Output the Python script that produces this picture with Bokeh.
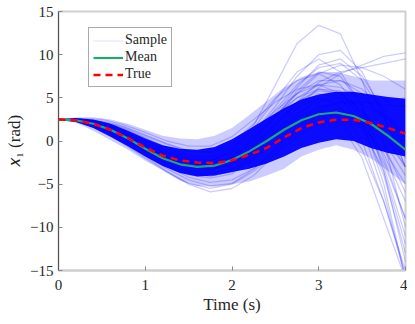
from bokeh.plotting import figure
from bokeh.models import Legend, LegendItem, FixedTicker
from bokeh.embed import file_html
from bokeh.resources import INLINE

# time grids
t_s = [0.0, 0.25, 0.5, 0.75, 1.0, 1.25, 1.5, 1.75, 2.0, 2.25, 2.5, 2.75, 3.0, 3.25, 3.5, 3.75, 4.0]
t_f = [0.0, 0.2, 0.4, 0.6, 0.8, 1.0, 1.2, 1.4, 1.6, 1.8, 2.0, 2.2, 2.4, 2.6, 2.8, 3.0, 3.2, 3.4, 3.6, 3.8, 4.0]

mean_x1 = [2.5, 2.4, 2.0, 1.3, 0.3, -0.9, -2.0, -2.7, -3.0, -2.85, -2.2, -1.2, 0.0, 1.3, 2.4, 3.1, 3.3, 2.9, 2.0, 0.6, -1.0]
true_x1 = [2.5, 2.4, 2.0, 1.3, 0.35, -0.75, -1.7, -2.25, -2.5, -2.55, -2.25, -1.6, -0.8, 0.4, 1.5, 2.15, 2.45, 2.45, 2.1, 1.5, 0.85]

# dense region of the sample cloud
core_lo = [2.5, 2.2, 1.5, 0.5, -0.6, -1.8, -2.9, -3.7, -4.1, -4.0, -3.6, -3.2, -2.6, -1.8, -0.8, -0.2, 0.2, 0.0, -0.8, -1.4, -1.8]
core_hi = [2.5, 2.65, 2.5, 2.0, 1.2, 0.3, -0.5, -0.9, -1.0, -0.7, 0.2, 1.4, 2.6, 3.8, 4.8, 5.4, 5.7, 5.7, 5.4, 5.1, 4.9]
# faint fringe of the sample cloud
fringe_lo = [2.5, 2.1, 1.2, 0.1, -1.0, -2.3, -3.4, -4.6, -5.2, -5.3, -5.0, -4.7, -4.0, -3.2, -1.8, -1.0, -0.5, -1.0, -2.0, -3.5, -5.0]
fringe_hi = [2.5, 2.75, 2.75, 2.5, 2.0, 1.3, 0.6, 0.3, 0.2, 0.6, 1.5, 3.0, 4.6, 6.2, 7.4, 8.0, 8.0, 7.5, 7.0, 7.0, 7.0]

samples = [
    [2.5, 2.4, 1.9, 0.9, -0.3, -1.6, -2.5, -2.4, -1.0, 1.8, 6.5, 11.3, 13.4, 12.4, 7.0, 0.0, -10.0],
    [2.5, 2.5, 2.1, 1.2, 0.0, -1.3, -2.2, -2.3, -1.2, 1.0, 4.0, 7.5, 10.0, 10.5, 8.0, 3.0, -3.0],
    [2.5, 2.4, 1.8, 0.7, -0.6, -1.9, -2.8, -2.9, -1.9, 0.3, 3.2, 6.2, 8.8, 9.5, 7.5, 3.5, -1.0],
    [2.5, 2.5, 2.2, 1.5, 0.4, -0.7, -1.6, -1.8, -0.8, 1.5, 4.8, 8.0, 9.5, 8.0, 4.0, -2.0, -9.0],
    [2.5, 2.4, 2.0, 1.1, -0.1, -1.3, -2.3, -2.6, -1.8, 0.0, 2.8, 5.5, 7.8, 8.8, 8.5, 7.5, 6.0],
    [2.5, 2.4, 1.7, 0.5, -0.9, -2.2, -3.1, -3.3, -2.6, -0.8, 1.8, 4.5, 6.8, 8.0, 8.5, 9.0, 9.5],
    [2.5, 2.3, 1.6, 0.4, -1.0, -2.4, -3.4, -3.8, -3.2, -1.5, 1.0, 3.8, 6.2, 7.8, 8.8, 9.8, 10.2],
    [2.5, 2.5, 2.3, 1.7, 0.7, -0.3, -1.1, -1.3, -0.3, 2.0, 5.0, 7.0, 7.8, 6.5, 3.0, -3.0, -11.0],
    [2.5, 2.4, 1.9, 1.0, -0.2, -1.5, -2.5, -2.8, -2.0, 0.0, 2.8, 5.8, 8.0, 7.5, 4.0, -3.5, -14.0],
    [2.5, 2.4, 1.8, 0.7, -0.5, -1.8, -2.7, -3.0, -2.3, -0.5, 2.0, 4.5, 6.0, 5.8, 2.5, -5.0, -16.0],
    [2.5, 2.3, 1.5, 0.2, -1.3, -2.8, -3.9, -4.3, -3.8, -2.0, 0.5, 3.0, 4.8, 5.0, 1.5, -6.0, -16.0],
    [2.5, 2.4, 1.7, 0.6, -0.7, -2.0, -3.0, -3.3, -2.7, -1.0, 1.5, 3.8, 5.0, 4.0, 0.0, -7.0, -15.5],
    [2.5, 2.3, 1.4, 0.0, -1.6, -3.2, -4.5, -5.2, -4.9, -3.3, -0.8, 1.8, 3.5, 3.8, 2.5, 0.0, -4.0],
    [2.5, 2.2, 1.3, -0.1, -1.8, -3.5, -5.0, -5.9, -5.5, -4.0, -1.5, 1.2, 3.0, 3.5, 2.0, -1.5, -7.0],
    [2.5, 2.3, 1.5, 0.2, -1.3, -2.9, -4.2, -4.8, -4.5, -3.2, -1.0, 1.5, 3.5, 4.5, 4.2, 3.0, 1.0],
    [2.5, 2.5, 2.2, 1.6, 0.6, -0.4, -1.2, -1.4, -0.6, 1.2, 3.5, 5.5, 6.5, 6.2, 5.0, 3.0, 0.5],
    [2.5, 2.6, 2.5, 1.9, 1.0, 0.0, -0.6, -0.6, 0.5, 2.5, 4.5, 6.0, 6.5, 5.5, 3.5, 0.5, -3.0],
    [2.5, 2.4, 1.9, 0.9, -0.3, -1.5, -2.4, -2.6, -1.8, 0.2, 2.8, 5.0, 6.5, 7.0, 6.0, 3.8, 0.0],
    [2.5, 2.4, 1.8, 0.8, -0.4, -1.7, -2.6, -2.9, -2.4, -1.0, 1.0, 2.8, 3.5, 2.5, -1.0, -7.0, -15.0],
    [2.5, 2.3, 1.6, 0.4, -1.0, -2.3, -3.3, -3.7, -3.3, -2.0, 0.0, 2.0, 3.0, 2.0, -2.0, -9.0, -16.0],
    [2.5, 2.4, 1.7, 0.5, -0.8, -2.1, -3.0, -3.3, -2.8, -1.3, 0.8, 2.8, 4.0, 3.8, 1.5, -3.5, -12.0],
    [2.5, 2.3, 1.5, 0.3, -1.2, -2.6, -3.7, -4.1, -3.5, -1.8, 0.5, 2.5, 4.0, 4.5, 3.5, 1.0, -3.0],
    [2.5, 2.4, 2.0, 1.2, 0.1, -1.1, -2.0, -2.2, -1.4, 0.5, 3.0, 5.0, 6.0, 5.5, 2.5, -2.5, -9.0],
    [2.5, 2.5, 2.2, 1.4, 0.3, -0.9, -1.8, -2.0, -1.2, 0.8, 3.6, 6.5, 8.5, 9.0, 7.0, 3.0, -3.0],
    [2.5, 2.3, 1.6, 0.4, -1.1, -2.5, -3.6, -4.0, -3.6, -2.2, 0.0, 2.2, 3.8, 4.5, 4.5, 4.2, 4.0],
    [2.5, 2.4, 1.8, 0.7, -0.6, -1.9, -2.9, -3.2, -2.6, -1.0, 1.2, 3.3, 4.5, 4.8, 4.5, 4.5, 5.0],
    [2.5, 2.4, 1.9, 0.9, -0.3, -1.6, -2.5, -2.7, -2.0, -0.2, 2.2, 4.5, 5.8, 5.5, 3.5, -0.5, -6.0],
    [2.5, 2.2, 1.2, -0.3, -2.0, -3.6, -4.9, -5.5, -5.0, -3.5, -1.5, 0.5, 2.0, 2.5, 1.5, -1.0, -5.0],
    [2.5, 2.4, 1.8, 0.7, -0.6, -1.9, -2.8, -3.0, -2.3, -0.6, 1.8, 4.2, 5.5, 5.0, 2.0, -4.0, -13.0],
    [2.5, 2.5, 2.0, 1.1, 0.0, -1.2, -2.1, -2.3, -1.5, 0.4, 3.0, 5.5, 7.0, 7.0, 5.5, 2.5, -2.0],
]

x_ticks = [0, 1, 2, 3, 4]
y_ticks = [-15, -10, -5, 0, 5, 10, 15]

FONT = "Liberation Serif"
TXT = "#262626"

p = figure(width=407, height=316, x_range=(0, 4), y_range=(-15, 15),
           output_backend="svg", toolbar_location=None,
           min_border_left=58, min_border_right=2, min_border_top=11, min_border_bottom=45)
p.grid.visible = False
p.outline_line_color = "#cfcfcf"
p.outline_line_width = 2
p.background_fill_color = "white"

# sample cloud
p.varea(x=t_f, y1=fringe_lo, y2=fringe_hi, fill_color="#0000ff", fill_alpha=0.2)
for s in samples:
    p.line(t_s, s, line_color="#0000ff", line_alpha=0.2, line_width=1.3)
p.varea(x=t_f, y1=core_lo, y2=core_hi, fill_color="#0000ff", fill_alpha=0.95)

r_mean = p.line(t_f, mean_x1, line_color="#1fa774", line_width=2.2)
r_true = p.line(t_f, true_x1, line_color="#ff0000", line_width=2.5, line_dash="7 5")

# legend proxy for samples: very faint line (hidden behind the first point)
r_leg = p.line(t_s[:1] * 2, samples[0][:1] * 2, line_color="#0000ff", line_alpha=0.1, line_width=1.3)

legend = Legend(items=[LegendItem(label="Sample", renderers=[r_leg]),
                       LegendItem(label="Mean", renderers=[r_mean]),
                       LegendItem(label="True", renderers=[r_true])],
                location=(30, 183), glyph_width=30, glyph_height=13, label_height=13,
                spacing=1, padding=4, margin=0, label_standoff=2,
                label_text_font=FONT, label_text_font_size="14px", label_text_color=TXT,
                border_line_color="#555555", border_line_width=1, background_fill_alpha=1)
p.add_layout(legend, "center")

# axes
xa = p.xaxis[0]
ya = p.yaxis[0]
xa.ticker = FixedTicker(ticks=x_ticks)
ya.ticker = FixedTicker(ticks=y_ticks)
for ax in (xa, ya):
    ax.major_tick_in = 4
    ax.major_tick_out = 0
    ax.minor_tick_line_color = None
    ax.major_label_text_font = FONT
    ax.major_label_text_font_size = "15px"
    ax.major_label_text_color = TXT
    ax.axis_label_text_font = FONT
    ax.axis_label_text_font_style = "normal"
    ax.axis_label_text_font_size = "17px"
    ax.axis_label_text_color = TXT
xa.axis_label = "Time (s)"
ya.axis_label = "\U0001D465\u2081 (rad)"
xa.axis_line_color = "#cfcfcf"
xa.axis_line_width = 2
xa.major_tick_line_color = "#888888"
ya.axis_line_color = "#555555"
ya.major_tick_line_color = "#888888"
xa.major_label_standoff = 9
ya.major_label_standoff = 5
xa.axis_label_standoff = 2
ya.axis_label_standoff = 3

open("out.html", "w").write(file_html(p, INLINE))
